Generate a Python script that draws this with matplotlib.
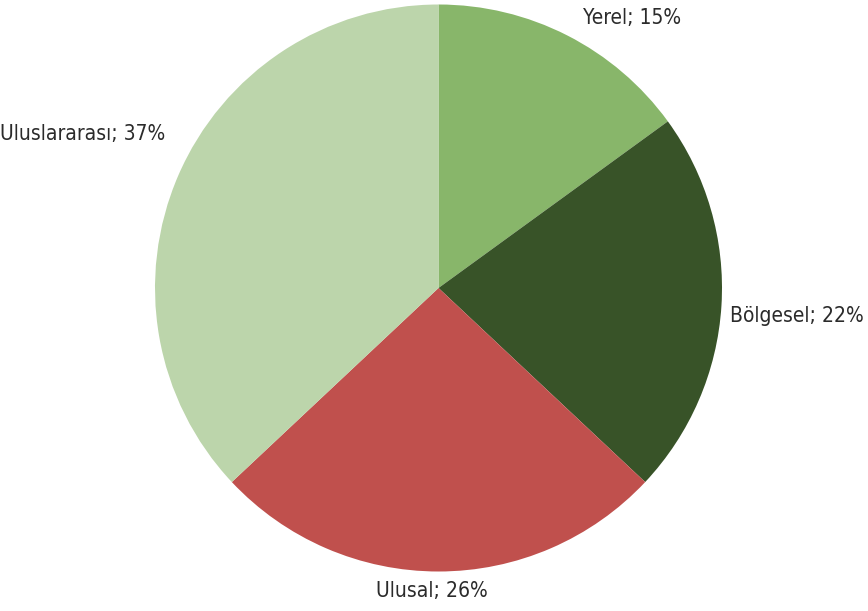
import matplotlib
matplotlib.use("Agg")
import matplotlib.pyplot as plt

labels = ["Yerel", "Bölgesel", "Ulusal", "Uluslararası"]
shares = [15, 22, 26, 37]
colors = ["#88b66a", "#385328", "#c0504d", "#bcd5ab"]

# label anchor points in pixel coords (x, y from top) and alignment
label_pos = [(632, 18), (864, 316), (432, 591), (165, 134)]
label_ha = ['center', 'right', 'center', 'right']

W, H = 868, 611
plt.rcParams['font.family'] = ['DejaVu Sans']

fig = plt.figure(figsize=(W / 100, H / 100), dpi=100)
ax = fig.add_axes([0, 0, 1, 1])

ax.pie(shares, colors=colors, startangle=90, counterclock=False,
       center=(438.5, H - 288), radius=283.5,
       wedgeprops=dict(linewidth=0), frame=True)
ax.set_xlim(0, W)
ax.set_ylim(0, H)
ax.set_aspect('equal')
ax.axis('off')

for name, val, (px, py), ha in zip(labels, shares, label_pos, label_ha):
    ax.text(px, H - py, f"{name}; {val}%", ha=ha, va='center',
            fontsize=15, fontstretch='condensed', color='#2b2b2b')

fig.savefig("out.png", dpi=100)
